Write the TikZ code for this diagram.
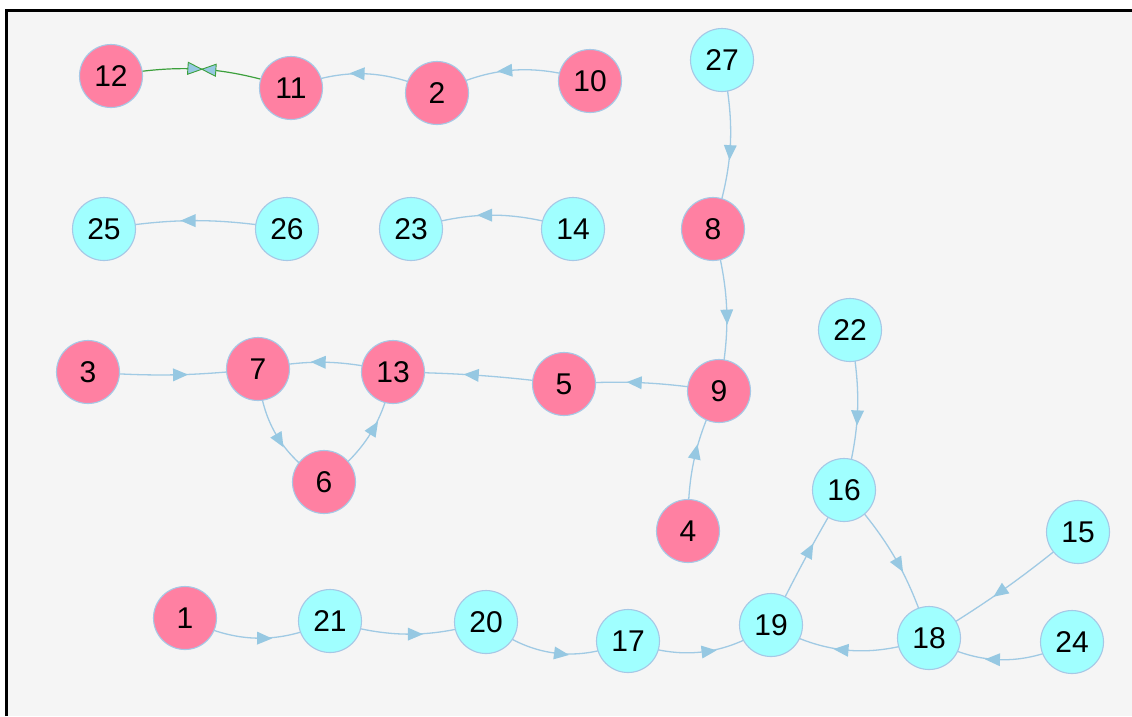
\documentclass[tikz,border=0pt]{standalone}
\usepackage{fontspec}
\setmainfont{Liberation Sans}
\usetikzlibrary{decorations.markings}
\pgfdeclarelayer{edges}
\pgfsetlayers{edges,main}
\definecolor{pinkc}{RGB}{255,128,162}
\definecolor{cyanc}{RGB}{160,255,255}
\definecolor{nborder}{RGB}{166,200,230}
\definecolor{edgec}{RGB}{160,202,228}
\definecolor{arrowc}{RGB}{150,200,226}
\definecolor{greenc}{RGB}{60,160,60}
\definecolor{bgc}{RGB}{245,245,245}
\tikzset{
  nd/.style={circle, minimum size=63pt, inner sep=0pt, draw=nborder, line width=1.1pt,
    font=\fontsize{30}{30}\selectfont, text=black},
  pk/.style={nd, fill=pinkc},
  cy/.style={nd, fill=cyanc},
  ed/.style={draw=edgec, line width=1.3pt, postaction={decorate},
    decoration={markings, mark=at position 0.5 with {\fill[arrowc] (15pt,0pt) -- (0pt,6.5pt) -- (0pt,-6.5pt) -- cycle;}}},
  gred/.style={draw=greenc, line width=1.2pt, postaction={decorate},
    decoration={markings, mark=at position 0.5 with {
      \filldraw[fill=arrowc, draw=greenc, line width=0.9pt] (0pt,0pt) -- (-14pt,6pt) -- (-14pt,-6pt) -- cycle;
      \filldraw[fill=arrowc, draw=greenc, line width=0.9pt] (0pt,0pt) -- (14pt,6pt) -- (14pt,-6pt) -- cycle;}}}
}
\begin{document}
\begin{tikzpicture}[x=1pt,y=1pt]
\useasboundingbox (0,0) rectangle (1132,-716);
\begin{pgfonlayer}{edges}
\fill[white] (0,0) rectangle (1132,-716);
\fill[bgc] (6.5,-10.5) rectangle (1132,-716);
\draw[black, line width=3pt] (6.5,-716) -- (6.5,-10.5) -- (1132,-10.5);
\end{pgfonlayer}
% nodes
\node[pk] (n12) at (111,-76) {12};
\node[pk] (n11) at (291,-88) {11};
\node[pk] (n2) at (437,-93) {2};
\node[pk] (n10) at (590,-81) {10};
\node[cy] (n27) at (722,-60) {27};
\node[cy] (n25) at (104,-229) {25};
\node[cy] (n26) at (287,-229) {26};
\node[cy] (n23) at (411,-229) {23};
\node[cy] (n14) at (573,-229) {14};
\node[pk] (n8) at (713,-229) {8};
\node[cy] (n22) at (850,-330) {22};
\node[pk] (n3) at (88,-372) {3};
\node[pk] (n7) at (258,-369) {7};
\node[pk] (n13) at (393,-372) {13};
\node[pk] (n5) at (564,-384) {5};
\node[pk] (n9) at (719,-391) {9};
\node[pk] (n6) at (324,-482) {6};
\node[pk] (n4) at (688,-531) {4};
\node[cy] (n16) at (844,-490) {16};
\node[cy] (n15) at (1078,-532) {15};
\node[pk] (n1) at (185,-618) {1};
\node[cy] (n21) at (330,-621) {21};
\node[cy] (n20) at (486,-622) {20};
\node[cy] (n17) at (628,-641) {17};
\node[cy] (n19) at (771,-625) {19};
\node[cy] (n18) at (929,-638) {18};
\node[cy] (n24) at (1072,-642) {24};
% edges
\begin{pgfonlayer}{edges}
\draw[gred] (n12.center) to[bend left=14] (n11.center);
\draw[ed] (n2.center) to[bend right=23] (n11.center);
\draw[ed] (n10.center) to[bend right=22] (n2.center);
\draw[ed] (n27.center) to[bend left=15] (n8.center);
\draw[ed] (n26.center) to[bend right=9] (n25.center);
\draw[ed] (n14.center) to[bend right=17] (n23.center);
\draw[ed] (n8.center) to[bend left=13] (n9.center);
\draw[ed] (n3.center) to[bend right=5] (n7.center);
\draw[ed] (n13.center) to[bend right=12] (n7.center);
\draw[ed] (n5.center) to[bend right=3] (n13.center);
\draw[ed] (n9.center) to[bend right=6] (n5.center);
\draw[ed] (n7.center) to[bend right=27] (n6.center);
\draw[ed] (n6.center) to[bend right=21] (n13.center);
\draw[ed] (n4.center) to[bend left=13] (n9.center);
\draw[ed] (n22.center) to[bend left=13] (n16.center);
\draw[ed] (n16.center) to[bend left=12] (n18.center);
\draw[ed] (n15.center) to[bend left=4] (n18.center);
\draw[ed] (n18.center) to[bend left=24] (n19.center);
\draw[ed] (n24.center) to[bend left=28] (n18.center);
\draw[ed] (n19.center) to[bend left=2] (n16.center);
\draw[ed] (n1.center) to[bend right=26] (n21.center);
\draw[ed] (n21.center) to[bend right=16] (n20.center);
\draw[ed] (n20.center) to[bend right=31] (n17.center);
\draw[ed] (n17.center) to[bend right=27] (n19.center);
\end{pgfonlayer}
\end{tikzpicture}
\end{document}
